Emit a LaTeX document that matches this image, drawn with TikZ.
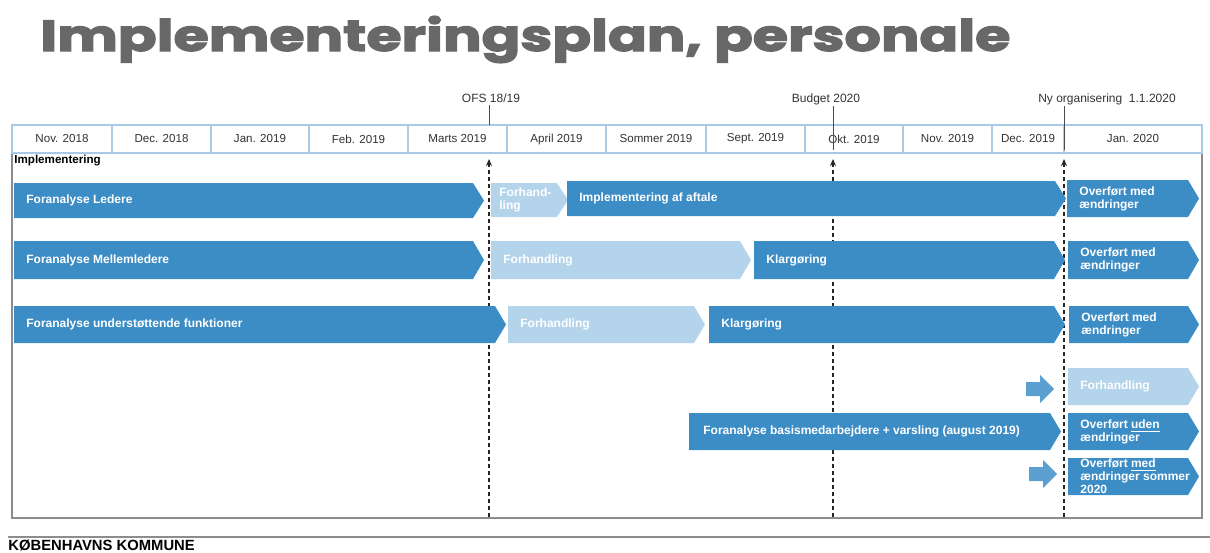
\documentclass[tikz,border=0pt]{standalone}
\usepackage{fontspec}
\setmainfont{Liberation Sans}
\newfontfamily\titlefont{Poppins}[BoldFeatures={FakeBold=2.5}]
\usepackage{graphicx}
\usetikzlibrary{arrows.meta, positioning}
\definecolor{barblue}{RGB}{60, 141, 198}
\definecolor{lightblue}{RGB}{180, 212, 235}
\definecolor{midblue}{RGB}{92, 160, 210}
\definecolor{gridblue}{RGB}{168, 202, 230}
\definecolor{titlegray}{RGB}{104, 104, 104}
\definecolor{framegray}{RGB}{140, 140, 140}

% chevron bar: [pad]{name}{x1}{x2}{ytop}{ybottom}{colour}{text}
\newcommand{\chevron}[8][12]{%
    \fill[#7] (#3,#5) -- (#4,#5) -- ({#4+11},{(#5+#6)/2}) -- (#4,#6) -- (#3,#6) -- cycle;
    \node[bartext] (#2) at ({#3+#1},{(#5+#6)/2}) {#8};
}
% small block arrow: {name}{x}{ymid}
\newcommand{\blockarrow}[3]{%
    \fill[midblue] (#2,{#3-7}) -- ({#2+14},{#3-7}) -- ({#2+14},{#3-14}) -- ({#2+28},#3)
        -- ({#2+14},{#3+14}) -- ({#2+14},{#3+7}) -- (#2,{#3+7}) -- cycle;
    \coordinate (#1) at (#2,#3);
}

\begin{document}
\begin{tikzpicture}[x=0.5pt, y=-0.5pt,
        bartext/.style={anchor=west, inner sep=0pt, align=left, text=white,
            font=\fontsize{6}{6.5}\selectfont\bfseries},
        monthtext/.style={inner sep=0pt, text=black!80, font=\fontsize{5.8}{7}\selectfont},
        markertext/.style={inner sep=1pt, text=black!80, font=\fontsize{6}{7}\selectfont},
        markerline/.style={black!70, line width=0.5pt},
        dashline/.style={black!85, line width=1pt, dash pattern=on 2pt off 1.5pt},
        gridline/.style={gridblue, line width=0.6pt}]
    \useasboundingbox (0,0) rectangle (1210,552);

    % title
    \node[anchor=base west, inner sep=0pt, text=titlegray] (title) at (40,51)
        {\resizebox{485pt}{17.5pt}{\titlefont\bfseries Implementeringsplan, personale}};

    % frame
    \draw[framegray, line width=0.8pt] (12,125) rectangle (1202,518);

    % month header
    \foreach \xa/\xb/\lab [count=\i] in {12/112/Nov. 2018, 112/211/Dec. 2018, 211/309/Jan. 2019,
            309/408/Feb. 2019, 408/507/Marts 2019, 507/606/April 2019, 606/706/Sommer 2019,
            706/805/Sept. 2019, 805/903/Okt. 2019, 903/992/Nov. 2019, 992/1064/Dec. 2019,
            1064/1202/Jan. 2020} {
        \draw[gridline] (\xa,125) rectangle (\xb,153);
        \node[monthtext] (m\i) at ({(\xa+\xb)/2},139) {\lab};
    }
    \node[anchor=west, inner sep=0pt, font=\fontsize{5.8}{7}\selectfont\bfseries] (impl) at (14,161) {Implementering};

    % milestones
    \node[markertext] (ofs) at (491,98) {OFS 18/19};
    \node[markertext] (budget) at (826,99) {Budget 2020};
    \node[markertext] (nyorg) at (1107,99) {Ny organisering\ \ 1.1.2020};
    \foreach \x/\top/\bot [count=\i] in {489/105/125, 833/106/150, 1064/106/150} {
        \coordinate (ms\i) at (\x,\top);
        \coordinate (mb\i) at (\x,\bot);
        \coordinate (dt\i) at (\x,159);
        \coordinate (db\i) at (\x,518);
        \draw[markerline] (ms\i) -- (mb\i);
        \draw[dashline, {Stealth[length=3.5pt, width=3pt]}-] (dt\i) -- (db\i);
    }

    % row 1
    \chevron{ledere}{14}{473}{183}{218}{barblue}{Foranalyse Ledere}
    \chevron[8]{forh1}{491}{557}{183}{217}{lightblue}{Forhand-\\ling}
    \chevron{impaft}{567}{1055}{181}{216}{barblue}{Implementering af aftale}
    \chevron{ovf1}{1067}{1188}{180}{217}{barblue}{Overført med\\ændringer}
    % row 2
    \chevron{mellem}{14}{473}{241}{279}{barblue}{Foranalyse Mellemledere}
    \chevron{forh2}{491}{740}{241}{279}{lightblue}{Forhandling}
    \chevron{klar2}{754}{1054}{241}{279}{barblue}{Klargøring}
    \chevron{ovf2}{1068}{1188}{241}{279}{barblue}{Overført med\\ændringer}
    % row 3
    \chevron{understot}{14}{495}{306}{343}{barblue}{Foranalyse understøttende funktioner}
    \chevron{forh3}{508}{694}{306}{343}{lightblue}{Forhandling}
    \chevron{klar3}{709}{1054}{306}{343}{barblue}{Klargøring}
    \chevron{ovf3}{1069}{1188}{306}{343}{barblue}{Overført med\\ændringer}
    % row 4
    \blockarrow{arr4}{1026}{389}
    \chevron{forh4}{1068}{1188}{368}{405}{lightblue}{Forhandling}
    % row 5
    \chevron[14]{basis}{689}{1050}{413}{450}{barblue}{Foranalyse basismedarbejdere + varsling (august 2019)}
    \chevron{ovf5}{1068}{1188}{413}{450}{barblue}{Overført \underline{uden}\\ændringer}
    % row 6
    \blockarrow{arr6}{1029}{474}
    \chevron{ovf6}{1068}{1188}{458}{495}{barblue}{Overført \underline{med}\\ændringer sommer\\2020}

    % footer
    \coordinate (footL) at (8,537);
    \coordinate (footR) at (1210,537);
    \draw[framegray, line width=1pt] (footL) -- (footR);
    \node[anchor=base west, inner sep=0pt, font=\fontsize{7.4}{9}\selectfont\bfseries] (kk) at (8,550) {KØBENHAVNS KOMMUNE};
\end{tikzpicture}
\end{document}
